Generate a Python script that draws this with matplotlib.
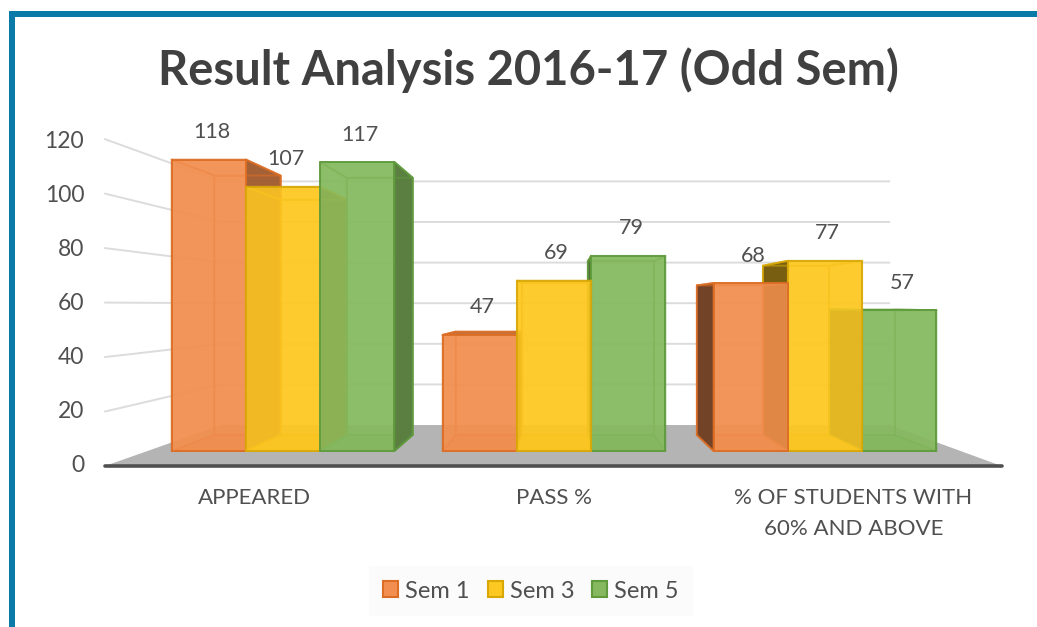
#! /usr/bin/python3

import numpy as np
import matplotlib.pyplot as plt
from matplotlib.colors import to_rgb
from matplotlib.patches import Patch, Polygon, Rectangle

plt.rcParams['font.family'] = ['Lato', 'DejaVu Sans']

categories = ['APPEARED', 'PASS %', '% OF STUDENTS WITH\n60% AND ABOVE']
series_names = ['Sem 1', 'Sem 3', 'Sem 5']
sem1 = [118, 47, 68]
sem3 = [107, 69, 77]
sem5 = [117, 79, 57]
y_ticks = [0, 20, 40, 60, 80, 100, 120]

colors = ['#f28f50', '#fec822', '#86b95f']
edges = ['#dc6d24', '#d8a806', '#5f9a3c']

# perspective of the fake 3D box, in data units of the main axes
VANISH_X = 1.026
VANISH_Y = 59.1
BACK_OF_BAR = 0.89
BACK_WALL = 0.822
FLOOR_FRONT = 1.103
BAR_WIDTH = 0.274
# how dark the outer side of a bar gets, per category
side_dark = [0.68, 0.6, 0.47]


def project(x, val, scale):
    """
    Moves a point of the front plane towards the vanishing point
    :param x: Position in category units
    :param val: Value on the y scale
    :param scale: 1 is the front of the bars, less is further back
    :return: x and y in the main axes
    """
    return (VANISH_X + scale * (x - VANISH_X),
            VANISH_Y + scale * (val - VANISH_Y))


def darken(color, amount):
    return tuple(c * amount for c in to_rgb(color))


def face(ax, points, fill, edge, alpha=1.0, line_alpha=0.55):
    """
    Draws one side of a box, fill=None leaves only the outline
    """
    if fill is not None:
        ax.add_patch(Polygon(points, closed=True, facecolor=fill, alpha=alpha,
                             edgecolor='none'))
    ax.add_patch(Polygon(points, closed=True, fill=False, edgecolor=edge,
                         lw=1.4, alpha=line_alpha, joinstyle='round'))


def draw_bar(ax, left, val, color, edge, dark):
    right = left + BAR_WIDTH
    fl, fr = project(left, 0, 1), project(right, 0, 1)
    tl, tr = project(left, val, 1), project(right, val, 1)
    bfl, bfr = project(left, 0, BACK_OF_BAR), project(right, 0, BACK_OF_BAR)
    btl, btr = project(left, val, BACK_OF_BAR), project(right, val, BACK_OF_BAR)

    shade = darken(color, dark)
    # floor of the bar and its back wall show through the front
    face(ax, [fl, fr, bfr, bfl], darken(color, 0.9), edge, 0.6)
    face(ax, [bfl, bfr, btr, btl], None, edge)
    if right < VANISH_X:
        face(ax, [fr, tr, btr, bfr], shade, edge, 1.0, 0.9)
    else:
        face(ax, [fr, tr, btr, bfr], None, edge)
    if left > VANISH_X:
        face(ax, [fl, tl, btl, bfl], shade, edge, 1.0, 0.9)
    else:
        face(ax, [fl, tl, btl, bfl], None, edge)
    if val < VANISH_Y:
        face(ax, [tl, tr, btr, btl], darken(color, 0.8), edge, 1.0, 0.9)
    else:
        face(ax, [tl, tr, btr, btl], None, edge)
    face(ax, [fl, fr, tr, tl], color, edge, 0.86, 0.9)


def draw_box(ax):
    # back wall and left wall gridlines, zorder keeps them behind the bars
    for val in y_ticks[1:]:
        xs, ys = zip(project(-0.5, val, FLOOR_FRONT),
                     project(-0.5, val, BACK_WALL),
                     project(2.5, val, BACK_WALL))
        ax.plot(xs, ys, color='#dcdcdc', lw=1.4, solid_capstyle='round',
                zorder=0.5)
    floor = [project(-0.5, 0, FLOOR_FRONT), project(2.5, 0, FLOOR_FRONT),
             project(2.5, 0, BACK_WALL), project(-0.5, 0, BACK_WALL)]
    ax.add_patch(Polygon(floor, closed=True, facecolor='#b4b4b4',
                         edgecolor='none', zorder=0.6))
    xs, ys = zip(floor[0], floor[1])
    ax.plot(xs, ys, color='#505050', lw=2.6, solid_capstyle='round')


def main():
    fig = plt.figure(figsize=(10.37, 6.27), dpi=100)

    # frame around the whole picture
    fig.add_artist(Rectangle((9 / 1037, 0), 6 / 1037, 1 - 11 / 627,
                             transform=fig.transFigure, color='#0a7aa8', lw=0))
    fig.add_artist(Rectangle((9 / 1037, 1 - 17 / 627), 1 - 9 / 1037, 6 / 627,
                             transform=fig.transFigure, color='#0a7aa8', lw=0))

    # main axes cover the figure: category 0 sits at 283 px, value 0 at 451 px
    ax = fig.add_axes([0, 0, 1, 1])
    ax.set_xlim(-283 / 271, (1037 - 283) / 271)
    ax.set_ylim((451 - 627) / 2.47, 451 / 2.47)
    ax.axis('off')

    draw_box(ax)

    all_series = [sem1, sem3, sem5]
    # the colour goes down first so the gridlines only just show through
    for c in range(len(categories)):
        for s in range(3):
            left = c + (s - 1.5) * BAR_WIDTH
            val = all_series[s][c]
            ax.add_patch(Polygon([project(left, 0, 1),
                                  project(left + BAR_WIDTH, 0, 1),
                                  project(left + BAR_WIDTH, val, 1),
                                  project(left, val, 1)], closed=True,
                                 facecolor=colors[s], edgecolor='none',
                                 alpha=0.6))

    for c in range(len(categories)):
        lefts = [c + (s - 1.5) * BAR_WIDTH for s in range(3)]
        # bars far from the vanishing point go first, the near ones cover them
        order = sorted(range(3), key=lambda s: -abs(lefts[s] + BAR_WIDTH / 2
                                                    - VANISH_X))
        for s in order:
            draw_bar(ax, lefts[s], all_series[s][c], colors[s], edges[s],
                     side_dark[c])
        for s in range(3):
            ax.annotate(str(all_series[s][c]),
                        (lefts[s] + BAR_WIDTH / 2, all_series[s][c]),
                        xytext=(2, 19.8), textcoords='offset points',
                        ha='center', va='center', fontsize=15.5,
                        color='#505050')

    # axis labels live on the front edge of the floor
    left_end = project(-0.5, 0, FLOOR_FRONT)[0]
    right_end = project(2.5, 0, FLOOR_FRONT)[0]
    ax_front = fig.add_axes([105 / 1037, 1 - 463 / 627, 898 / 1037, 324 / 627])
    ax_front.patch.set_alpha(0)
    ax_front.set_ylim(0, 120)
    ax_front.set_yticks(y_ticks)
    ax_front.set_xlim(left_end, right_end)
    ax_front.set_xticks([project(c, 0, FLOOR_FRONT)[0] for c in range(3)])
    ax_front.set_xticklabels(categories, linespacing=1.67, ha='center')
    ax_front.tick_params(axis='x', length=0, pad=18, labelsize=16,
                         labelcolor='#505050')
    ax_front.tick_params(axis='y', length=0, pad=15, labelsize=16.5,
                         labelcolor='#505050')
    for spine in ax_front.spines.values():
        spine.set_visible(False)

    fig.text(528 / 1037, 1 - 70 / 627, 'Result Analysis 2016-17 (Odd Sem)',
             ha='center', va='center', fontsize=33.9, fontweight='bold',
             color='#404040')

    handles = [Patch(facecolor=colors[s], edgecolor=edges[s], lw=1.5)
               for s in range(3)]
    leg = fig.legend(handles, series_names, ncol=3, loc='center',
                     bbox_to_anchor=(531 / 1037, 1 - 591 / 627), frameon=True,
                     fontsize=17, labelcolor='#505050', handlelength=0.64,
                     handleheight=0.64, handletextpad=0.3, columnspacing=0.75,
                     borderpad=0.6, borderaxespad=0, fancybox=False)
    leg.get_frame().set_facecolor('#fafafa')
    leg.get_frame().set_edgecolor('none')

    return fig


if __name__ == "__main__":
    graph = main()
    graph.savefig('out.png', dpi=100)
